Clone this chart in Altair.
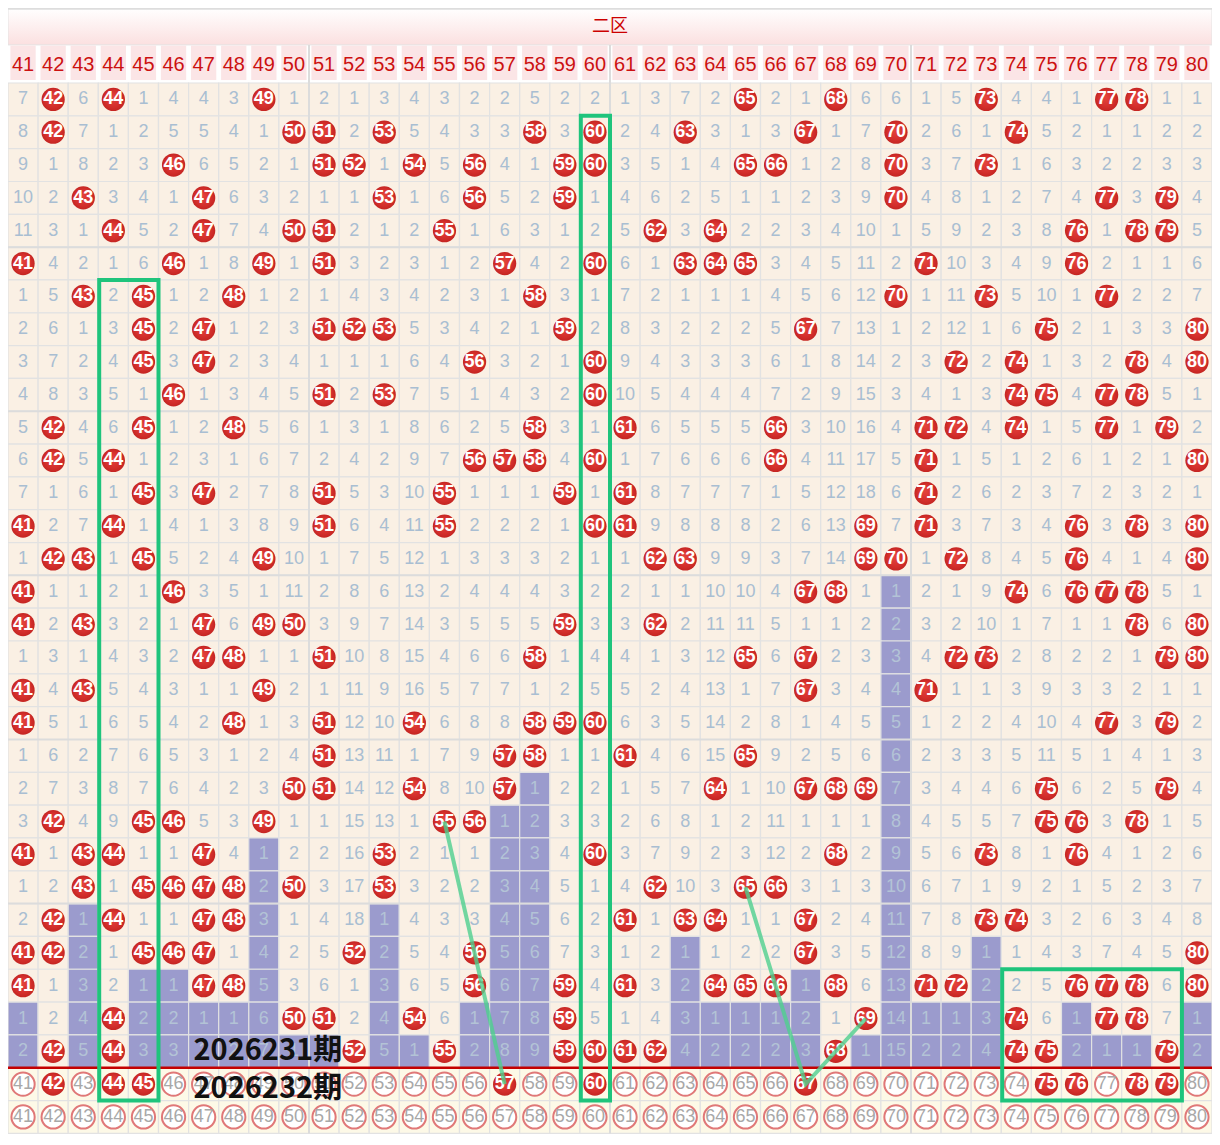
import altair as alt
import pandas as pd

# ---------------- data (0 = number drawn in that period) ----------------
AREA_TITLE = "二区"
COLS = list(range(41, 81))

R01 = [7,0,6,0,1,4,4,3,0,1, 2,1,3,4,3,2,2,5,2,2, 1,3,7,2,0,2,1,0,6,6, 1,5,0,4,4,1,0,0,1,1]
R02 = [8,0,7,1,2,5,5,4,1,0, 0,2,0,5,4,3,3,0,3,0, 2,4,0,3,1,3,0,1,7,0, 2,6,1,0,5,2,1,1,2,2]
R03 = [9,1,8,2,3,0,6,5,2,1, 0,0,1,0,5,0,4,1,0,0, 3,5,1,4,0,0,1,2,8,0, 3,7,0,1,6,3,2,2,3,3]
R04 = [10,2,0,3,4,1,0,6,3,2, 1,1,0,1,6,0,5,2,0,1, 4,6,2,5,1,1,2,3,9,0, 4,8,1,2,7,4,0,3,0,4]
R05 = [11,3,1,0,5,2,0,7,4,0, 0,2,1,2,0,1,6,3,1,2, 5,0,3,0,2,2,3,4,10,1, 5,9,2,3,8,0,1,0,0,5]
R06 = [0,4,2,1,6,0,1,8,0,1, 0,3,2,3,1,2,0,4,2,0, 6,1,0,0,0,3,4,5,11,2, 0,10,3,4,9,0,2,1,1,6]
R07 = [1,5,0,2,0,1,2,0,1,2, 1,4,3,4,2,3,1,0,3,1, 7,2,1,1,1,4,5,6,12,0, 1,11,0,5,10,1,0,2,2,7]
R08 = [2,6,1,3,0,2,0,1,2,3, 0,0,0,5,3,4,2,1,0,2, 8,3,2,2,2,5,0,7,13,1, 2,12,1,6,0,2,1,3,3,0]
R09 = [3,7,2,4,0,3,0,2,3,4, 1,1,1,6,4,0,3,2,1,0, 9,4,3,3,3,6,1,8,14,2, 3,0,2,0,1,3,2,0,4,0]
R10 = [4,8,3,5,1,0,1,3,4,5, 0,2,0,7,5,1,4,3,2,0, 10,5,4,4,4,7,2,9,15,3, 4,1,3,0,0,4,0,0,5,1]
R11 = [5,0,4,6,0,1,2,0,5,6, 1,3,1,8,6,2,5,0,3,1, 0,6,5,5,5,0,3,10,16,4, 0,0,4,0,1,5,0,1,0,2]
R12 = [6,0,5,0,1,2,3,1,6,7, 2,4,2,9,7,0,0,0,4,0, 1,7,6,6,6,0,4,11,17,5, 0,1,5,1,2,6,1,2,1,0]
R13 = [7,1,6,1,0,3,0,2,7,8, 0,5,3,10,0,1,1,1,0,1, 0,8,7,7,7,1,5,12,18,6, 0,2,6,2,3,7,2,3,2,1]
R14 = [0,2,7,0,1,4,1,3,8,9, 0,6,4,11,0,2,2,2,1,0, 0,9,8,8,8,2,6,13,0,7, 0,3,7,3,4,0,3,0,3,0]
R15 = [1,0,0,1,0,5,2,4,0,10, 1,7,5,12,1,3,3,3,2,1, 1,0,0,9,9,3,7,14,0,0, 1,0,8,4,5,0,4,1,4,0]
R16 = [0,1,1,2,1,0,3,5,1,11, 2,8,6,13,2,4,4,4,3,2, 2,1,1,10,10,4,0,0,1,1, 2,1,9,0,6,0,0,0,5,1]
R17 = [0,2,0,3,2,1,0,6,0,0, 3,9,7,14,3,5,5,5,0,3, 3,0,2,11,11,5,1,1,2,2, 3,2,10,1,7,1,1,0,6,0]
R18 = [1,3,1,4,3,2,0,0,1,1, 0,10,8,15,4,6,6,0,1,4, 4,1,3,12,0,6,0,2,3,3, 4,0,0,2,8,2,2,1,0,0]
R19 = [0,4,0,5,4,3,1,1,0,2, 1,11,9,16,5,7,7,1,2,5, 5,2,4,13,1,7,0,3,4,4, 0,1,1,3,9,3,3,2,1,1]
R20 = [0,5,1,6,5,4,2,0,1,3, 0,12,10,0,6,8,8,0,0,0, 6,3,5,14,2,8,1,4,5,5, 1,2,2,4,10,4,0,3,0,2]
R21 = [1,6,2,7,6,5,3,1,2,4, 0,13,11,1,7,9,0,0,1,1, 0,4,6,15,0,9,2,5,6,6, 2,3,3,5,11,5,1,4,1,3]
R22 = [2,7,3,8,7,6,4,2,3,0, 0,14,12,0,8,10,0,1,2,2, 1,5,7,0,1,10,0,0,0,7, 3,4,4,6,0,6,2,5,0,4]
R23 = [3,0,4,9,0,0,5,3,0,1, 1,15,13,1,0,0,1,2,3,3, 2,6,8,1,2,11,1,1,1,8, 4,5,5,7,0,0,3,0,1,5]
R24 = [0,1,0,0,1,1,0,4,1,2, 2,16,0,2,1,1,2,3,4,0, 3,7,9,2,3,12,2,0,2,9, 5,6,0,8,1,0,4,1,2,6]
R25 = [1,2,0,1,0,0,0,0,2,0, 3,17,0,3,2,2,3,4,5,1, 4,0,10,3,0,0,3,1,3,10, 6,7,1,9,2,1,5,2,3,7]
R26 = [2,0,1,0,1,1,0,0,3,1, 4,18,1,4,3,3,4,5,6,2, 0,1,0,0,1,1,0,2,4,11, 7,8,0,0,3,2,6,3,4,8]
R27 = [0,0,2,1,0,0,0,1,4,2, 5,0,2,5,4,0,5,6,7,3, 1,2,1,1,2,2,0,3,5,12, 8,9,1,1,4,3,7,4,5,0]
R28 = [0,1,3,2,1,1,0,0,5,3, 6,1,3,6,5,0,6,7,0,4, 0,3,2,0,0,0,1,0,6,13, 0,0,2,2,5,0,0,0,6,0]
R29 = [1,2,4,0,2,2,1,1,6,0, 0,2,4,0,6,1,7,8,0,5, 1,4,3,1,1,1,2,1,0,14, 1,1,3,0,6,1,0,0,7,1]
R30 = [2,0,5,0,3,3,2,2,7,1, 1,0,5,1,0,2,8,9,0,0, 0,0,4,2,2,2,3,0,1,15, 2,2,4,0,0,2,1,1,0,2]
ROWS = [R01, R02, R03, R04, R05, R06, R07, R08, R09, R10,
        R11, R12, R13, R14, R15, R16, R17, R18, R19, R20,
        R21, R22, R23, R24, R25, R26, R27, R28, R29, R30]

NEXT_PICKS = [42, 44, 45, 57, 60, 67, 75, 76, 78, 79]     # highlighted in the first forecast row
PERIOD_LABELS = ["2026231期", "2026232期"]

# annotation boxes: (first col, last col, first row, last row)
BOX_COLS = [(44, 45), (60, 60), (74, 79)]
BOX_ROWS = [(7, 31), (2, 31), (28, 31)]
# trend lines: (col, row) points
TREND_A = [(55, 23), (57, 31)]
TREND_B = [(65, 25), (67, 31), (69, 29)]

# ---------------- colours / styles ----------------
BEIGE = "#faf0e4"
PURPLE = "#9b9bcd"
CREAM = "#fdf9e7"
GRID = "#e2e2e2"
NUM = "#a9bed2"
GREEN = "#1fc47c"
FONT = "Liberation Sans"
CJK = "Noto Sans CJK SC"

N_ROWS = len(ROWS)
last_hit = {}
for j, c in enumerate(COLS):
    last_hit[c] = max([i + 1 for i, r in enumerate(ROWS) if r[j] == 0] or [0])

recs = []
for i, r in enumerate(ROWS):
    rown = i + 1
    for j, c in enumerate(COLS):
        v = r[j]
        hit = v == 0
        kind = "p" if rown > last_hit[c] else "n"
        recs.append(dict(row=rown, col=c, val=v, hit=hit, kind=kind,
                         label=str(c) if hit else str(v)))
for k in range(len(PERIOD_LABELS)):
    rown = N_ROWS + 1 + k
    for c in COLS:
        red = (k == 0 and c in NEXT_PICKS)
        recs.append(dict(row=rown, col=c, val=-1, hit=red, kind="b" if not red else "br",
                         label=str(c)))
cells = pd.DataFrame(recs)
cells["x"] = cells["col"] - 0.5
cells["x2"] = cells["col"] + 0.5
cells["y"] = cells["row"] - 0.5
cells["y2"] = cells["row"] + 0.5

XS = alt.Scale(domain=[40.5, 80.5], nice=False, zero=False)
YS = alt.Scale(domain=[-1.785, 32.61], nice=False, zero=False, reverse=True)
X = lambda f: alt.X(f, type="quantitative", scale=XS, axis=None)
Y = lambda f: alt.Y(f, type="quantitative", scale=YS, axis=None)

# header band
hdr = pd.DataFrame({"x": [40.5], "x2": [80.5], "y": [-1.785], "y2": [-0.66], "t": [AREA_TITLE], "xc": [60.5], "yc": [-1.22]})
header_bg = alt.Chart(hdr).mark_rect(
    color=alt.Gradient(gradient="linear",
                       stops=[alt.GradientStop(color="#ffffff", offset=0),
                              alt.GradientStop(color="#fbe0e0", offset=1)],
                       x1=0, x2=0, y1=0, y2=1),
    stroke="#e4e4e4", strokeWidth=1
).encode(x=X("x"), x2="x2", y=Y("y"), y2="y2")
header_txt = alt.Chart(hdr).mark_text(font=CJK, fontSize=18, color="#cc0000").encode(
    x=X("xc"), y=Y("yc"), text="t:N")

colhdr = pd.DataFrame({"col": COLS})
colhdr["x"] = colhdr["col"] - 0.42
colhdr["x2"] = colhdr["col"] + 0.42
colhdr["y"] = -0.64
colhdr["y2"] = 0.41
colhdr["yc"] = -0.06
colhdr["t"] = colhdr["col"].astype(str)
colhdr_box = alt.Chart(colhdr).mark_rect(color="#fbe5e6").encode(
    x=X("x"), x2="x2", y=Y("y"), y2="y2")
colhdr_txt = alt.Chart(colhdr).mark_text(font=FONT, fontSize=20, color="#cc1111").encode(
    x=X("col"), y=Y("yc"), text="t:N")

cell_rect = alt.Chart(cells).mark_rect(stroke=GRID, strokeWidth=1.2).encode(
    x=X("x"), x2="x2", y=Y("y"), y2="y2",
    color=alt.Color("kind:N", scale=alt.Scale(domain=["n", "p", "b", "br"],
                                              range=[BEIGE, PURPLE, CREAM, CREAM]), legend=None))

# thicker separators every 5 rows and between decades
seps = pd.DataFrame({"y": [5.5, 10.5, 15.5, 20.5, 25.5], "x": 40.5, "x2": 80.5})
row_seps = alt.Chart(seps).mark_rule(color="#dcdcdc", strokeWidth=2).encode(
    x=X("x"), x2="x2", y=Y("y"))
vseps = pd.DataFrame({"x": [50.5, 60.5, 70.5], "y": -0.66, "y2": 32.5})
col_seps = alt.Chart(vseps).mark_rule(color="#dcdcdc", strokeWidth=2).encode(
    x=X("x"), y=Y("y"), y2="y2")

num_txt = alt.Chart(cells).transform_filter("!datum.hit && datum.val >= 0").mark_text(
    font=FONT, fontSize=18, baseline="middle").encode(
    x=X("col"), y=Y("row"), text="label:N",
    color=alt.condition("datum.kind == 'p'", alt.value("#b3c3d6"), alt.value(NUM)))

ball_grad = alt.Gradient(gradient="radial",
                         stops=[alt.GradientStop(color="#e5443e", offset=0),
                                alt.GradientStop(color="#d42f2c", offset=0.7),
                                alt.GradientStop(color="#c42522", offset=1)],
                         x1=0.45, y1=0.4, r1=0, x2=0.5, y2=0.5, r2=0.5)
balls = alt.Chart(cells).transform_filter("datum.hit").mark_circle(
    color=ball_grad, opacity=1, size=540).encode(x=X("col"), y=Y("row"))
ball_txt = alt.Chart(cells).transform_filter("datum.hit").mark_text(
    font=FONT, fontSize=18, fontWeight="bold", color="white", baseline="middle").encode(
    x=X("col"), y=Y("row"), text="label:N")

rings = alt.Chart(cells).transform_filter("datum.kind == 'b'").mark_circle(
    fill="white", fillOpacity=1, stroke="#e07878", strokeWidth=2, opacity=1, size=540).encode(
    x=X("col"), y=Y("row"))
ring_txt = alt.Chart(cells).transform_filter("datum.kind == 'b'").mark_text(
    font=FONT, fontSize=18, color="#a8a8a8", baseline="middle").encode(
    x=X("col"), y=Y("row"), text="label:N")

redline = alt.Chart(pd.DataFrame({"y": [N_ROWS + 0.5], "x": [40.5], "x2": [80.5]})).mark_rule(
    color="#c40000", strokeWidth=2.5).encode(x=X("x"), x2="x2", y=Y("y"))

boxes = pd.DataFrame({
    "x": [a - 0.47 for a, b in BOX_COLS], "x2": [b + 0.5 for a, b in BOX_COLS],
    "y": [a - 0.5 for a, b in BOX_ROWS], "y2": [b + 0.5 for a, b in BOX_ROWS]})
box_layer = alt.Chart(boxes).mark_rect(filled=False, stroke=GREEN, strokeWidth=4).encode(
    x=X("x"), x2="x2", y=Y("y"), y2="y2")

trend = pd.DataFrame(
    [dict(g="a", seq=i, col=c, row=r) for i, (c, r) in enumerate(TREND_A)] +
    [dict(g="b", seq=i, col=c, row=r) for i, (c, r) in enumerate(TREND_B)])
trend_layer = alt.Chart(trend).mark_line(color="#4fcf8f", strokeWidth=4, opacity=0.8).encode(
    x=X("col"), y=Y("row"), detail="g:N", order="seq:Q")

lab = pd.DataFrame({"t": PERIOD_LABELS, "x": [46.66, 46.66], "y": [N_ROWS + 0.0, N_ROWS + 1.15]})
labels = alt.Chart(lab).mark_text(font=CJK, fontSize=29, fontWeight="bold", color="#111111",
                                  align="left", baseline="middle").encode(
    x=X("x"), y=Y("y"), text="t:N")

top_line = alt.Chart(pd.DataFrame({"y": [-1.76], "x": [40.5], "x2": [80.5]})).mark_rule(
    color="#dddddd", strokeWidth=2).encode(x=X("x"), x2="x2", y=Y("y"))

chart = alt.layer(
    header_bg, top_line, header_txt, colhdr_box, colhdr_txt,
    cell_rect, row_seps, col_seps, num_txt, balls, ball_txt, rings, ring_txt,
    redline, box_layer, trend_layer, labels
).properties(
    width=1204, height=1129,
    padding=0,
    autosize=alt.AutoSizeParams(type="none"),
    background="white"
).configure_view(stroke=None)

chart.save("out.html", embed_options={"renderer": "svg", "actions": False})
